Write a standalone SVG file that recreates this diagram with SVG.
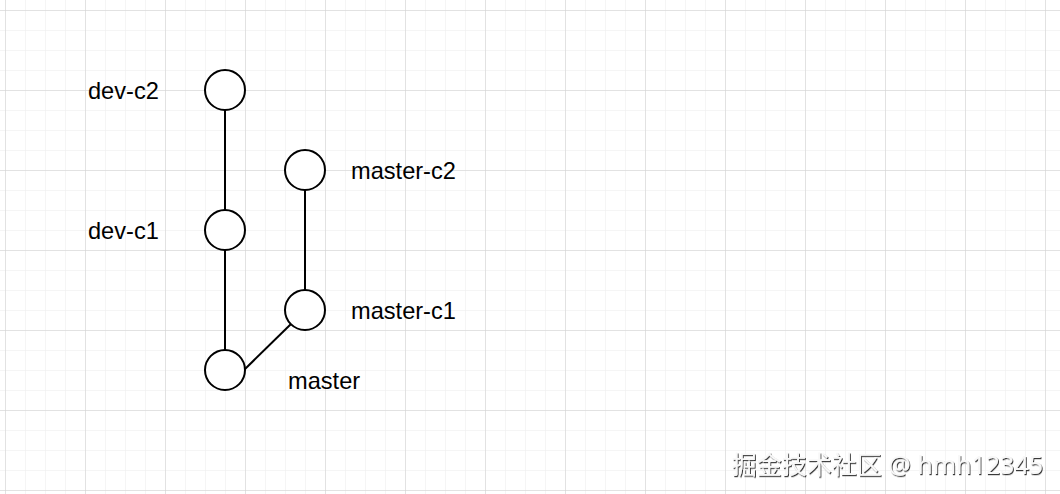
<svg xmlns="http://www.w3.org/2000/svg" width="1060" height="494" viewBox="0 0 1060 494">
<defs>
<pattern id="minor" x="5" y="10" width="20" height="20" patternUnits="userSpaceOnUse">
<path d="M0 0H20M0 0V20" fill="none" stroke="#ebebeb" stroke-width="1"/>
</pattern>
<pattern id="major" x="5" y="10" width="80" height="80" patternUnits="userSpaceOnUse">
<path d="M0 0H80M0 0V80" fill="none" stroke="#cfcfcf" stroke-width="1"/>
</pattern>
<filter id="shadow" x="-5%" y="-20%" width="110%" height="140%">
<feDropShadow dx="1" dy="1.2" stdDeviation="0.7" flood-color="#222" flood-opacity="0.9"/>
</filter>
</defs>
<style>
.node circle{fill:#fff;stroke:#000;stroke-width:2}
.lbl{font-family:"Liberation Sans",Arial,sans-serif;font-size:23.6px;fill:#000}
#connectors line{stroke:#000;stroke-width:2}
.wm{font-family:"Noto Sans","Noto Sans CJK SC",sans-serif;font-size:25px;fill:#f8f8f8;filter:url(#shadow)}
</style>
<rect width="1060" height="494" fill="#fff"/>
<rect width="1060" height="494" fill="url(#minor)"/>
<rect width="1060" height="494" fill="url(#major)"/>
<g id="connectors">
<line x1="225" y1="110" x2="225" y2="210"/>
<line x1="225" y1="250" x2="225" y2="350"/>
<line x1="305" y1="190" x2="305" y2="290"/>
<line x1="244" y1="370" x2="291" y2="324"/>
</g>
<g id="dev-c2" class="node"><circle cx="225" cy="90" r="20"/><text class="lbl" x="88" y="99">dev-c2</text></g>
<g id="dev-c1" class="node"><circle cx="225" cy="230" r="20"/><text class="lbl" x="88" y="239">dev-c1</text></g>
<g id="master" class="node"><circle cx="225" cy="370" r="20"/><text class="lbl" x="288" y="389">master</text></g>
<g id="master-c2" class="node"><circle cx="305" cy="170" r="20"/><text class="lbl" x="351" y="179">master-c2</text></g>
<g id="master-c1" class="node"><circle cx="305" cy="310" r="20"/><text class="lbl" x="351" y="319">master-c1</text></g>
<text class="wm" x="1043" y="474" text-anchor="end">掘金技术社区 @ hmh12345</text>
</svg>
